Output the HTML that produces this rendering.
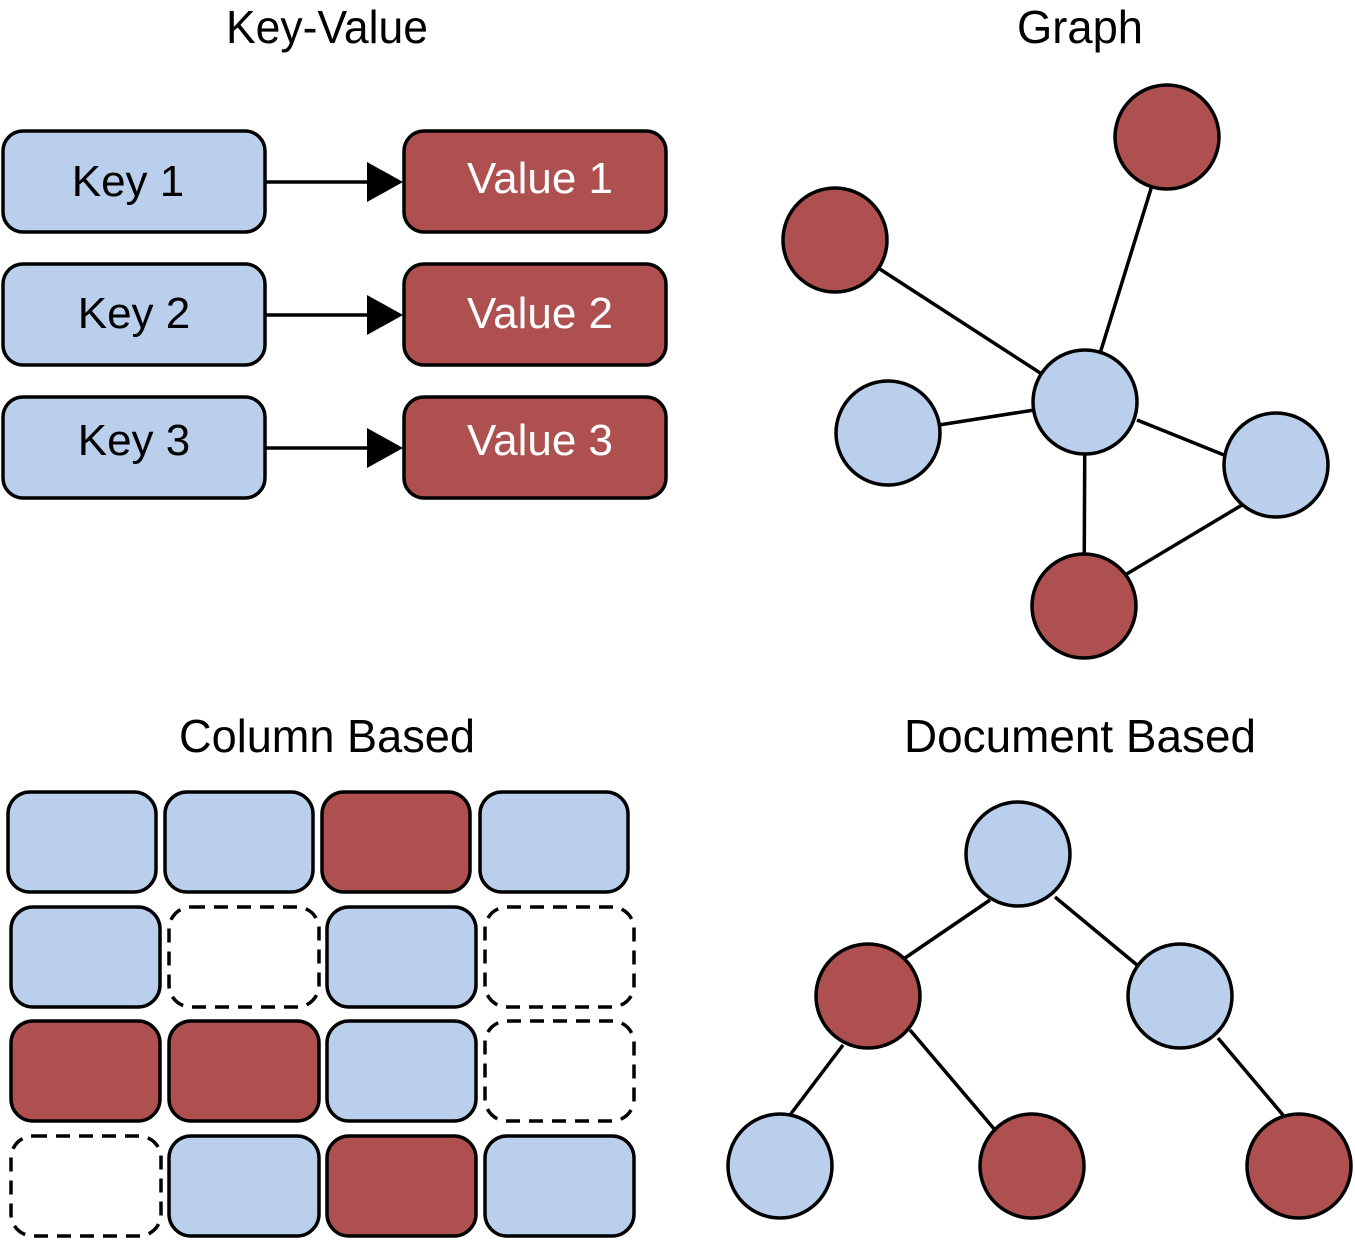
<!DOCTYPE html>
<html><head><style>body{margin:0;background:#fff}</style></head><body>
<svg width="1355" height="1240" xmlns="http://www.w3.org/2000/svg" font-family="Liberation Sans, sans-serif">
<g font-size="46" fill="#000" text-anchor="middle">
<text x="327" y="43" textLength="202" lengthAdjust="spacingAndGlyphs">Key-Value</text>
<text x="1080" y="43" textLength="126" lengthAdjust="spacingAndGlyphs">Graph</text>
<text x="327" y="752" textLength="296" lengthAdjust="spacingAndGlyphs">Column Based</text>
<text x="1080" y="752" textLength="352" lengthAdjust="spacingAndGlyphs">Document Based</text>
</g>
<g stroke="#000" stroke-width="3.5">
<rect x="3" y="131" width="262" height="101" rx="20" fill="#b9cfeb"/>
<rect x="3" y="264" width="262" height="101" rx="20" fill="#b9cfeb"/>
<rect x="3" y="397" width="262" height="101" rx="20" fill="#b9cfeb"/>
<rect x="404" y="131" width="262" height="101" rx="20" fill="#ae5050"/>
<rect x="404" y="264" width="262" height="101" rx="20" fill="#ae5050"/>
<rect x="404" y="397" width="262" height="101" rx="20" fill="#ae5050"/>
<line x1="265" y1="182" x2="370" y2="182"/>
<line x1="265" y1="315" x2="370" y2="315"/>
<line x1="265" y1="448" x2="370" y2="448"/>
</g>
<g fill="#000">
<polygon points="367,162 403,182 367,202"/>
<polygon points="367,295 403,315 367,335"/>
<polygon points="367,428 403,448 367,468"/>
</g>
<g font-size="44" text-anchor="middle">
<text x="128" y="196">Key 1</text>
<text x="134" y="328">Key 2</text>
<text x="134" y="455">Key 3</text>
<text x="540" y="193" fill="#fff">Value 1</text>
<text x="540" y="328" fill="#fff">Value 2</text>
<text x="540" y="455" fill="#fff">Value 3</text>
</g>
<g stroke="#000" stroke-width="3.5">
<line x1="1085" y1="402" x2="1167" y2="137"/>
<line x1="1085" y1="402" x2="835" y2="240"/>
<line x1="1085" y1="402" x2="888" y2="433"/>
<line x1="1137" y1="420" x2="1224" y2="455"/>
<line x1="1085" y1="402" x2="1084" y2="606"/>
<line x1="1242" y1="505" x2="1125" y2="575"/>
<circle cx="1167" cy="137" r="52" fill="#ae5050"/>
<circle cx="835" cy="240" r="52" fill="#ae5050"/>
<circle cx="1085" cy="402" r="52" fill="#b9cfeb"/>
<circle cx="888" cy="433" r="52" fill="#b9cfeb"/>
<circle cx="1276" cy="465" r="52" fill="#b9cfeb"/>
<circle cx="1084" cy="606" r="52" fill="#ae5050"/>
</g>
<g stroke="#000" stroke-width="3.5">
<rect x="8" y="792" width="148" height="100" rx="22" fill="#b9cfeb"/>
<rect x="165" y="792" width="148" height="100" rx="22" fill="#b9cfeb"/>
<rect x="322" y="792" width="148" height="100" rx="22" fill="#ae5050"/>
<rect x="480" y="792" width="148" height="100" rx="22" fill="#b9cfeb"/>
<rect x="11" y="907" width="149" height="100" rx="22" fill="#b9cfeb"/>
<rect x="169" y="907" width="150" height="100" rx="22" fill="none" stroke-dasharray="14,9"/>
<rect x="327" y="907" width="149" height="100" rx="22" fill="#b9cfeb"/>
<rect x="485" y="907" width="149" height="100" rx="22" fill="none" stroke-dasharray="14,9"/>
<rect x="11" y="1021" width="149" height="100" rx="22" fill="#ae5050"/>
<rect x="169" y="1021" width="150" height="100" rx="22" fill="#ae5050"/>
<rect x="327" y="1021" width="149" height="100" rx="22" fill="#b9cfeb"/>
<rect x="485" y="1021" width="149" height="100" rx="22" fill="none" stroke-dasharray="14,9"/>
<rect x="11" y="1136" width="150" height="100" rx="22" fill="none" stroke-dasharray="14,9"/>
<rect x="169" y="1136" width="150" height="100" rx="22" fill="#b9cfeb"/>
<rect x="327" y="1136" width="149" height="100" rx="22" fill="#ae5050"/>
<rect x="485" y="1136" width="149" height="100" rx="22" fill="#b9cfeb"/>
</g>
<g stroke="#000" stroke-width="3.5">
<line x1="990" y1="900" x2="905" y2="958"/>
<line x1="1055" y1="897" x2="1137" y2="965"/>
<line x1="843" y1="1045" x2="790" y2="1115"/>
<line x1="910" y1="1030" x2="995" y2="1130"/>
<line x1="1218" y1="1038" x2="1283" y2="1115"/>
<circle cx="1018" cy="854" r="52" fill="#b9cfeb"/>
<circle cx="868" cy="996" r="52" fill="#ae5050"/>
<circle cx="1180" cy="996" r="52" fill="#b9cfeb"/>
<circle cx="780" cy="1166" r="52" fill="#b9cfeb"/>
<circle cx="1032" cy="1166" r="52" fill="#ae5050"/>
<circle cx="1299" cy="1166" r="52" fill="#ae5050"/>
</g>
</svg>
</body></html>
